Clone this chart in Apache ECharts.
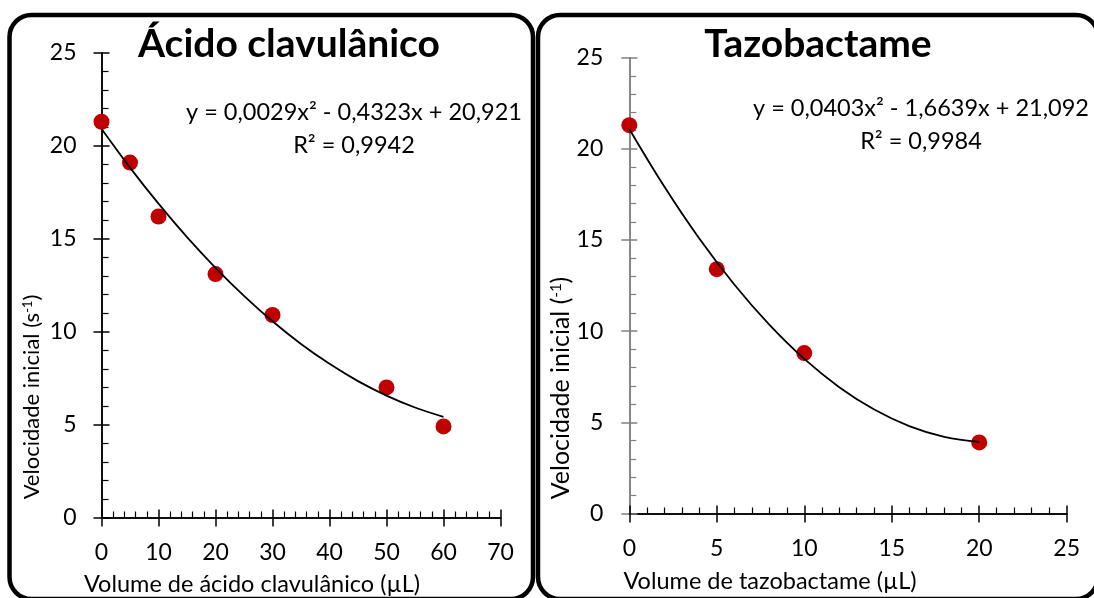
<!DOCTYPE html>
<html>
<head>
<meta charset="utf-8">
<script src="https://cdn.jsdelivr.net/npm/echarts@6/dist/echarts.min.js"></script>
<style>html,body{margin:0;padding:0;background:#fff}#c{width:1094px;height:598px}</style>
</head>
<body>
<div id="c"></div>
<script>
// ---- data ----
const clavX = [0, 5, 10, 20, 30, 50, 60];
const clavY = [21.3, 19.1, 16.2, 13.1, 10.9, 7.0, 4.9];
const clavFitX = [0, 5, 10, 15, 20, 25, 30, 35, 40, 45, 50, 55, 60];
const clavFitY = [20.92, 18.83, 16.89, 15.09, 13.44, 11.93, 10.56, 9.34, 8.27, 7.34, 6.56, 5.92, 5.42];
const tazoX = [0, 5, 10, 20];
const tazoY = [21.3, 13.4, 8.8, 3.9];
const tazoFitX = [0, 2, 4, 6, 8, 10, 12, 14, 16, 18, 20];
const tazoFitY = [21.09, 17.93, 15.08, 12.56, 10.36, 8.48, 6.93, 5.70, 4.79, 4.20, 3.93];
const clavXRange = [0, 70, 10];
const tazoXRange = [0, 25, 5];
const yRange = [0, 25, 5];
const titles = ['Ácido clavulânico', 'Tazobactame'];
const equations = ['y = 0,0029x² - 0,4323x + 20,921', 'y = 0,0403x² - 1,6639x + 21,092'];
const r2Labels = ['R² = 0,9942', 'R² = 0,9984'];
const xNames = ['Volume de ácido clavulânico (µL)', 'Volume de tazobactame (µL)'];

const FONT = 'Lato';
const pair = (xs, ys) => xs.map((x, i) => [x, ys[i]]);

function xAxes(gi, range, color) {
  const base = {
    type: 'value', gridIndex: gi, min: range[0], max: range[1], interval: range[2],
    position: 'bottom', splitLine: {show: false},
    axisLine: {show: true, onZero: false, lineStyle: {color: color, width: 1.5}}
  };
  return [
    Object.assign({}, base, {
      axisTick: {show: true, inside: false, length: 9, lineStyle: {color: color, width: 1.5}},
      axisLabel: {show: true, color: '#000', fontFamily: FONT, fontSize: 23, margin: 24}
    }),
    Object.assign({}, base, {
      axisTick: {show: true, inside: true, length: 8, lineStyle: {color: color, width: 1.5}},
      minorTick: {show: true, splitNumber: 5, length: 6, lineStyle: {color: color, width: 1.2}},
      axisLabel: {show: false}
    })
  ];
}
function yAxes(gi, range, color, margin) {
  const base = {
    type: 'value', gridIndex: gi, min: range[0], max: range[1], interval: range[2],
    position: 'left', splitLine: {show: false},
    axisLine: {show: true, onZero: false, lineStyle: {color: color, width: 1.5}}
  };
  return [
    Object.assign({}, base, {
      axisTick: {show: true, inside: false, length: 8, lineStyle: {color: color, width: 1.5}},
      axisLabel: {show: true, color: '#000', fontFamily: FONT, fontSize: 23, margin: margin}
    }),
    Object.assign({}, base, {
      axisTick: {show: true, inside: true, length: 8, lineStyle: {color: color, width: 1.5}},
      minorTick: {show: true, splitNumber: 5, length: 7, lineStyle: {color: color, width: 1.2}},
      axisLabel: {show: false}
    })
  ];
}

const chart = echarts.init(document.getElementById('c'), null, {renderer: 'canvas'});
const txt = (x, y, text, size, weight, extra) => Object.assign({
  type: 'text', x: x, y: y, z: 100,
  style: Object.assign({text: text, fill: '#000', font: (weight || 'normal') + ' ' + size + 'px ' + FONT,
    textAlign: 'center', textVerticalAlign: 'middle'}, extra || {})
});
const yName = (x, y, text, size) => ({
  type: 'text', x: x, y: y, rotation: Math.PI / 2, z: 100,
  style: {text: text, fill: '#000', font: size + 'px ' + FONT,
    textAlign: 'center', textVerticalAlign: 'middle',
    rich: {sup: {fontSize: Math.round(size * 0.6), fontFamily: FONT, fill: '#000', verticalAlign: 'top',
      padding: [0, 0, Math.round(size * 0.4), 0]}}}
});

chart.setOption({
  animation: false,
  grid: [
    {left: 101.5, right: 593.5, top: 53, bottom: 80.5},
    {left: 629.3, right: 27.3, top: 57.7, bottom: 84.5}
  ],
  xAxis: [].concat(xAxes(0, clavXRange, '#000'), xAxes(1, tazoXRange, '#000')),
  yAxis: [].concat(yAxes(0, yRange, '#000', 25), yAxes(1, yRange, '#808080', 26)),
  series: [
    {type: 'scatter', xAxisIndex: 0, yAxisIndex: 0, data: pair(clavX, clavY), symbolSize: 16,
     itemStyle: {color: '#C00000', opacity: 1}, z: 2},
    {type: 'line', xAxisIndex: 0, yAxisIndex: 0, data: pair(clavFitX, clavFitY), smooth: 0.4,
     showSymbol: false, lineStyle: {color: '#000', width: 1.8}, z: 5},
    {type: 'scatter', xAxisIndex: 2, yAxisIndex: 2, data: pair(tazoX, tazoY), symbolSize: 16,
     itemStyle: {color: '#C00000', opacity: 1}, z: 2},
    {type: 'line', xAxisIndex: 2, yAxisIndex: 2, data: pair(tazoFitX, tazoFitY), smooth: 0.4,
     showSymbol: false, lineStyle: {color: '#000', width: 1.8}, z: 5}
  ],
  graphic: [
    {type: 'rect', z: 50, shape: {x: 9.5, y: 15, width: 523.5, height: 584, r: 22},
     style: {fill: 'none', stroke: '#000', lineWidth: 4.5}},
    {type: 'rect', z: 50, shape: {x: 538, y: 15, width: 560, height: 584, r: 22},
     style: {fill: 'none', stroke: '#000', lineWidth: 4.5}},
    txt(289, 44, titles[0], 39, 'bold'),
    txt(818, 44, titles[1], 39, 'bold'),
    txt(354, 112, equations[0], 23.5),
    txt(354, 145, r2Labels[0], 23.5),
    txt(921, 108, equations[1], 23.5),
    txt(921, 141, r2Labels[1], 23.5),
    txt(252, 584, xNames[0], 23.5),
    txt(770, 581, xNames[1], 23.5),
    yName(32, 397, 'Velocidade inicial (s{sup|-1})', 22),
    yName(561, 388, 'Velocidade inicial ({sup|-1})', 25)
  ]
});
</script>
</body>
</html>
